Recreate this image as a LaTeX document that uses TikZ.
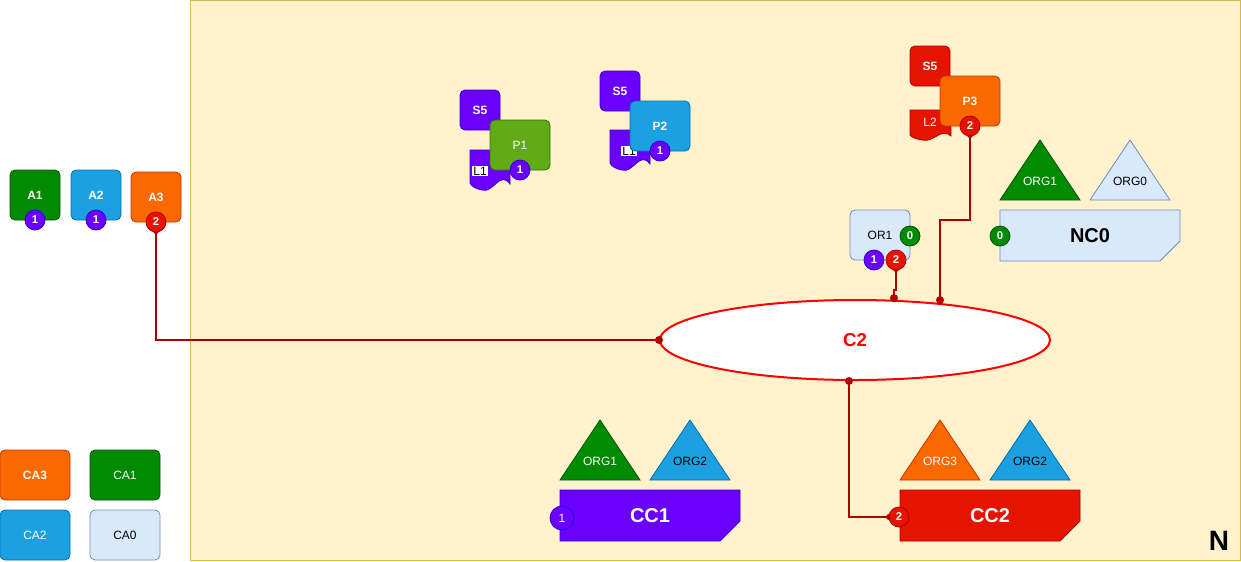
\documentclass[tikz,border=0pt]{standalone}
\usepackage{fontspec}
\setmainfont{Liberation Sans}
\usetikzlibrary{shapes.geometric}
\definecolor{bgY}{HTML}{FFF2CC}\definecolor{bgYd}{HTML}{D6B656}
\definecolor{cGreen}{HTML}{008A00}\definecolor{cGreenD}{HTML}{005700}
\definecolor{cBlue}{HTML}{1BA1E2}\definecolor{cBlueD}{HTML}{006EAF}
\definecolor{cOrange}{HTML}{FA6800}\definecolor{cOrangeD}{HTML}{C73500}
\definecolor{cPurple}{HTML}{6A00FF}\definecolor{cPurpleD}{HTML}{3700CC}
\definecolor{cRed}{HTML}{E51400}\definecolor{cRedD}{HTML}{B20000}
\definecolor{cLime}{HTML}{60A917}\definecolor{cLimeD}{HTML}{2D7600}
\definecolor{cLight}{HTML}{DAE8FC}\definecolor{cLightD}{HTML}{6C8EBF}
\definecolor{cLine}{HTML}{FF0000}
\tikzset{
  box/.style={rounded corners=3.75pt, minimum width=37.5pt, minimum height=37.5pt, inner sep=0pt, font=\fontsize{9}{10}\selectfont\bfseries, text=white, line width=0.6pt},
  wbox/.style={box, minimum width=45pt},
  sbox/.style={box, minimum width=30pt, minimum height=30pt},
  cabox/.style={box, minimum width=52.5pt},
  badge/.style={circle, minimum size=15pt, inner sep=0pt, font=\fontsize{8.5}{9}\selectfont\bfseries, text=white, line width=0.6pt},
  pbadge/.style={badge, fill=cPurple, draw=cPurpleD},
  rbadge/.style={badge, fill=cRed, draw=cRedD},
  gbadge/.style={badge, fill=cGreen, draw=cGreenD},
  tri/.style={line width=0.6pt},
  trilabel/.style={font=\fontsize{9}{10}\selectfont, inner sep=0pt},
  big/.style={font=\fontsize{15}{16}\selectfont\bfseries, inner sep=0pt},
  conn/.style={draw=cRedD, line width=1.5pt},
  jdot/.style={fill=cRedD},
  doclabel/.style={font=\fontsize{9}{10}\selectfont, inner sep=0.8pt},
}
\begin{document}
\begin{tikzpicture}[x=0.75pt,y=-0.75pt]
\path[use as bounding box] (0,0) rectangle (1241,561);
% background container
\draw[fill=bgY, draw=bgYd, line width=0.6pt] (190,0) rectangle (1240,560);
\node[font=\fontsize{21}{22}\selectfont\bfseries, inner sep=0pt] (nlab) at (1219,541) {N};

% A boxes
\node[box, fill=cGreen, draw=cGreenD] (a1) at (35,195) {A1};
\node[box, fill=cBlue, draw=cBlueD] (a2) at (96,195) {A2};
\node[box, fill=cOrange, draw=cOrangeD] (a3) at (156,197) {A3};
\node[pbadge] (a1b) at (35,220) {1};
\node[pbadge] (a2b) at (96,220) {1};
\fill[cRedD] (156,231) circle (3);
\node[rbadge] (a3b) at (156,222) {2};

% CA boxes
\node[cabox, fill=cOrange, draw=cOrangeD] (ca3) at (35,475) {CA3};
\node[cabox, fill=cGreen, draw=cGreenD, font=\fontsize{9}{10}\selectfont] (ca1) at (125,475) {CA1};
\node[cabox, fill=cBlue, draw=cBlueD, font=\fontsize{9}{10}\selectfont] (ca2) at (35,535) {CA2};
\node[cabox, fill=cLight, draw=cLightD, text=black, font=\fontsize{9}{10}\selectfont] (ca0) at (125,535) {CA0};

% P1 group
\node[sbox, fill=cPurple, draw=cPurpleD] (s5a) at (480,110) {S5};
\draw[fill=cPurple, draw=cPurpleD, line width=0.6pt] (470,150) -- (510,150) -- (510,184) .. controls (500,170) and (493,194) .. (482,190) .. controls (476,189) and (471,186) .. (470,183) -- cycle;
\node[doclabel, fill=white] (l1a) at (480,171) {L1};
\node[wbox, fill=cLime, draw=cLimeD, font=\fontsize{9}{10}\selectfont] (p1) at (520,145) {P1};
\node[pbadge] (p1b) at (520,170) {1};

% P2 group
\node[sbox, fill=cPurple, draw=cPurpleD] (s5b) at (620,91) {S5};
\draw[fill=cPurple, draw=cPurpleD, line width=0.6pt] (610,130) -- (650,130) -- (650,164) .. controls (640,150) and (633,174) .. (622,170) .. controls (616,169) and (611,166) .. (610,163) -- cycle;
\node[doclabel, fill=white] (l1b) at (629,151) {L1};
\node[wbox, fill=cBlue, draw=cBlueD] (p2) at (660,126) {P2};
\node[pbadge] (p2b) at (660,151) {1};

% P3 group
\node[sbox, fill=cRed, draw=cRedD] (s5c) at (930,66) {S5};
\draw[fill=cRed, draw=cRedD, line width=0.6pt] (910,110) -- (951,110) -- (951,136) .. controls (941,127) and (934,143) .. (922,140) .. controls (916,139) and (911,137) .. (910,135) -- cycle;
\node[doclabel, text=white] (l2) at (930,122) {L2};
\node[wbox, fill=cOrange, draw=cOrangeD, font=\fontsize{9}{10}\selectfont\bfseries] (p3) at (970,101) {P3};
\fill[cRedD] (970,135) circle (3);
\node[rbadge] (p3b) at (970,126) {2};

% OR1
\node[box, minimum width=45pt, fill=cLight, draw=cLightD, text=black, font=\fontsize{9}{10}\selectfont] (or1) at (880,235) {OR1};
\node[gbadge] (or1g) at (910,236) {0};
\node[pbadge] (or1p) at (874,260) {1};
\fill[cRedD] (896,269) circle (3);
\node[rbadge] (or1r) at (896,260) {2};

% NC0 group
\draw[tri, fill=cGreen, draw=cGreenD] (1000,200) -- (1080,200) -- (1040,140) -- cycle;
\node[trilabel, text=white] (org1n) at (1040,181) {ORG1};
\draw[tri, fill=cLight, draw=cLightD] (1090,200) -- (1170,200) -- (1130,140) -- cycle;
\node[trilabel] (org0n) at (1130,181) {ORG0};
\draw[tri, fill=cLight, draw=cLightD] (1000,210) -- (1180,210) -- (1180,241) -- (1160,261) -- (1000,261) -- cycle;
\node[big] (nc0) at (1090,236) {NC0};
\node[gbadge] (nc0b) at (1000,236) {0};

% C2 ellipse
\node[ellipse, draw=cLine, fill=white, line width=1.5pt, minimum width=292.5pt, minimum height=60pt, inner sep=0pt, text=cLine, font=\fontsize{14}{15}\selectfont\bfseries] (c2) at (855,340) {C2};

% CC1 group
\draw[tri, fill=cGreen, draw=cGreenD] (560,480) -- (640,480) -- (600,420) -- cycle;
\node[trilabel, text=white] (org1c) at (600,461) {ORG1};
\draw[tri, fill=cBlue, draw=cBlueD] (650,480) -- (730,480) -- (690,420) -- cycle;
\node[trilabel] (org2c) at (690,461) {ORG2};
\draw[tri, fill=cPurple, draw=cPurpleD] (560,490) -- (740,490) -- (740,521) -- (720,541) -- (560,541) -- cycle;
\node[big, text=white] (cc1) at (650,516) {CC1};
\node[badge, minimum size=18pt, fill=cPurple, draw=cPurpleD, font=\fontsize{9}{10}\selectfont] (cc1b) at (562,518) {1};

% CC2 group
\draw[tri, fill=cOrange, draw=cOrangeD] (900,480) -- (980,480) -- (940,420) -- cycle;
\node[trilabel, text=white] (org3d) at (940,461) {ORG3};
\draw[tri, fill=cBlue, draw=cBlueD] (990,480) -- (1070,480) -- (1030,420) -- cycle;
\node[trilabel] (org2d) at (1030,461) {ORG2};
\draw[tri, fill=cRed, draw=cRedD] (900,490) -- (1080,490) -- (1080,521) -- (1060,541) -- (900,541) -- cycle;
\node[big, text=white] (cc2) at (990,516) {CC2};

% connectors
\coordinate (p3end) at (940,300);
\coordinate (or1end) at (894,298);
\coordinate (c2bot) at (849,381);
\draw[conn] (a3b.south) |- (c2.west);
\draw[conn] (p3b.south) -- (970,220) -| (p3end);
\draw[conn] (or1r.south) -- (896,290) -| (or1end);
\fill[cRedD] (889,517) circle (3);
\node[rbadge] (cc2b) at (899,517) {2};
\draw[conn] (c2bot) |- (cc2b.west);
\fill[jdot] (c2.west) circle (4);
\fill[jdot] (p3end) circle (4);
\fill[jdot] (or1end) circle (4);
\fill[jdot] (c2bot) circle (4);
\end{tikzpicture}
\end{document}
